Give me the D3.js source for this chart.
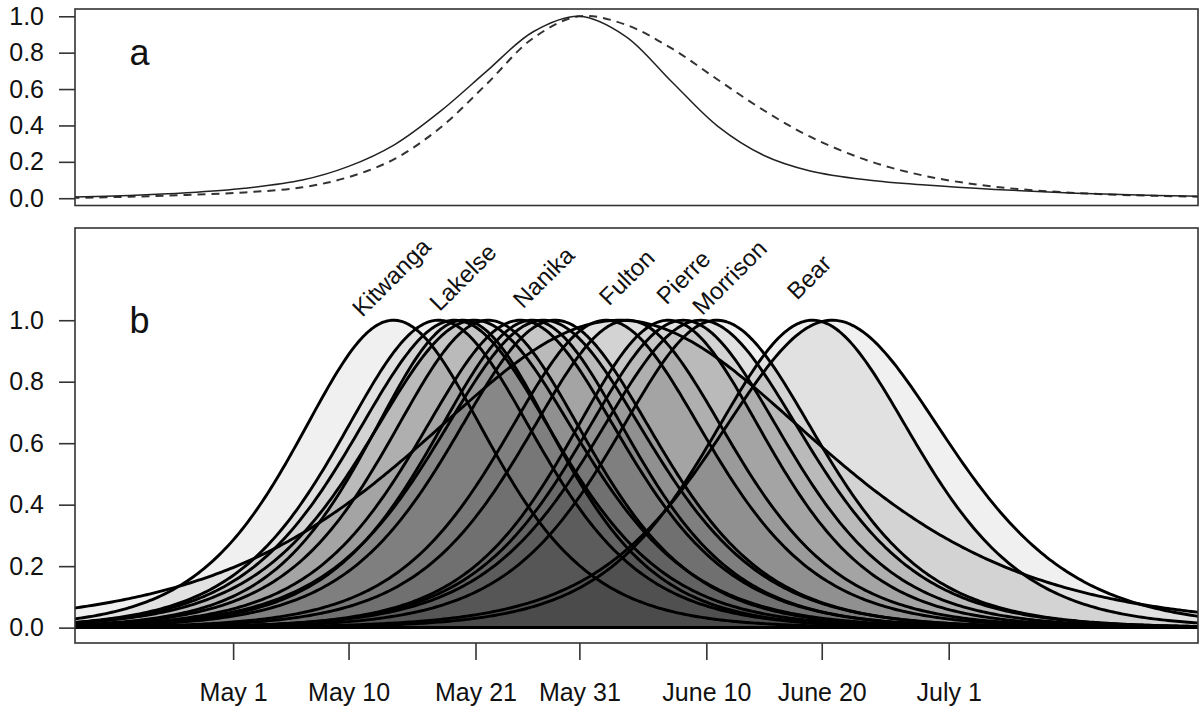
<!DOCTYPE html>
<html>
<head>
<meta charset="utf-8">
<script src="https://cdn.jsdelivr.net/npm/d3@7"></script>
<style>
  body { margin: 0; background: #fff; }
  text { font-family: "Liberation Sans", Arial, sans-serif; fill: #111; }
</style>
</head>
<body>
<div id="chart"></div>
<script>
const aDays   = [107, 112, 117, 122, 127, 131, 135, 139, 143, 147, 151, 155, 159, 163, 167, 171, 176, 181, 187, 194, 201, 205];
const aSolid  = [0.006, 0.015, 0.03, 0.055, 0.10, 0.175, 0.295, 0.48, 0.70, 0.915, 1.0, 0.89, 0.64, 0.395, 0.235, 0.15, 0.10, 0.072, 0.048, 0.028, 0.015, 0.011];
const aDashed = [0.002, 0.008, 0.018, 0.032, 0.06, 0.116, 0.216, 0.39, 0.63, 0.88, 1.0, 0.954, 0.823, 0.651, 0.482, 0.338, 0.207, 0.122, 0.063, 0.029, 0.013, 0.008];

// panel b: one curve per stock, peak day of year and spread (days)
const stockPeaks   = [134.9, 138.8, 140.2, 140.9, 141.9, 143.1, 145.9, 146.9, 147.9, 148.9, 153.3, 154.5, 155.2, 158.7, 160.0, 161.5, 162.9, 171.2, 172.9];
const stockSpreads = [5.6, 5.8, 6.0, 5.5, 6.2, 5.8, 6.0, 5.8, 6.2, 6.0, 6.0, 11.5, 6.0, 5.8, 6.0, 6.2, 6.0, 6.0, 6.8];

const labelNames = ["Kitwanga", "Lakelse", "Nanika", "Fulton", "Pierre", "Morrison", "Bear"];
const labelDays  = [134.7, 140.9, 147.9, 155.1, 160.0, 164.0, 170.9];

const tickDays   = [121, 131, 142, 151, 162, 172, 183];
const tickLabels = ["May 1", "May 10", "May 21", "May 31", "June 10", "June 20", "July 1"];
const yTicks = [0, 0.2, 0.4, 0.6, 0.8, 1.0];

const width = 1201, height = 709;
const left = 75, right = 1198;

const svg = d3.select("#chart").append("svg")
    .attr("width", width)
    .attr("height", height);

const x = d3.scaleLinear().domain([107.3, 204.6]).range([left, right]);
const yA = d3.scaleLinear().domain([-0.04, 1.04]).range([205.5, 9]);
const yB = d3.scaleLinear().domain([-0.05, 1.30]).range([643, 228]);

const defs = svg.append("defs");
defs.append("clipPath").attr("id", "clipA").append("rect")
    .attr("x", left).attr("y", yA.range()[1])
    .attr("width", right - left).attr("height", yA.range()[0] - yA.range()[1]);
defs.append("clipPath").attr("id", "clipB").append("rect")
    .attr("x", left).attr("y", yB.range()[1])
    .attr("width", right - left).attr("height", yB.range()[0] - yB.range()[1]);

function styleAxis(g) {
    g.select(".domain").remove();
    g.selectAll(".tick line").attr("stroke", "#333").attr("stroke-width", 1.6);
    g.selectAll(".tick text").attr("font-size", "25px").attr("fill", "#111");
}

// ---- panel a ----
const gA = svg.append("g");
gA.append("g")
    .attr("transform", `translate(${left},0)`)
    .call(d3.axisLeft(yA).tickValues(yTicks).tickSize(16).tickPadding(15).tickFormat(d3.format(".1f")))
    .call(styleAxis);

const lineA = d3.line()
    .x(d => x(d[0]))
    .y(d => yA(d[1]))
    .curve(d3.curveCatmullRom.alpha(0.5));

const plotA = gA.append("g").attr("clip-path", "url(#clipA)");
plotA.append("path")
    .datum(aDays.map((d, i) => [d, aDashed[i]]))
    .attr("d", lineA)
    .attr("fill", "none")
    .attr("stroke", "#333")
    .attr("stroke-width", 2)
    .attr("stroke-dasharray", "8,6");
plotA.append("path")
    .datum(aDays.map((d, i) => [d, aSolid[i]]))
    .attr("d", lineA)
    .attr("fill", "none")
    .attr("stroke", "#222")
    .attr("stroke-width", 1.5);

gA.append("text")
    .attr("x", x(112.9)).attr("y", yA(0.8))
    .attr("text-anchor", "middle")
    .attr("dy", "0.35em")
    .attr("font-size", "36px")
    .text("a");

gA.append("rect")
    .attr("x", left).attr("y", yA.range()[1])
    .attr("width", right - left).attr("height", yA.range()[0] - yA.range()[1])
    .attr("fill", "none").attr("stroke", "#333").attr("stroke-width", 1.6);

// ---- panel b ----
const gB = svg.append("g");
gB.append("g")
    .attr("transform", `translate(${left},0)`)
    .call(d3.axisLeft(yB).tickValues(yTicks).tickSize(16).tickPadding(15).tickFormat(d3.format(".1f")))
    .call(styleAxis);

gB.append("g")
    .attr("transform", `translate(0,${yB.range()[0]})`)
    .call(d3.axisBottom(x).tickValues(tickDays).tickSize(17).tickPadding(23).tickFormat((d, i) => tickLabels[i]))
    .call(styleAxis);

const grid = d3.range(100, 212.01, 0.25);
const areaB = d3.area()
    .x(d => x(d[0]))
    .y0(yB(0))
    .y1(d => yB(d[1]));

const plotB = gB.append("g").attr("clip-path", "url(#clipB)");
stockPeaks.forEach((mu, i) => {
    const s = stockSpreads[i];
    const pts = grid.map(d => [d, 1 / Math.pow(Math.cosh((d - mu) / (2 * s)), 2)]);
    plotB.append("path")
        .attr("d", areaB(pts))
        .attr("fill", "rgba(0,0,0,0.058)")
        .attr("stroke", "#000")
        .attr("stroke-width", 2.9)
        .attr("stroke-linejoin", "round");
});

labelNames.forEach((name, i) => {
    gB.append("text")
        .attr("transform", `translate(${x(labelDays[i])},${yB(1.14)}) rotate(-45)`)
        .attr("text-anchor", "middle")
        .attr("dy", "0.35em")
        .attr("font-size", "24px")
        .text(name);
});

gB.append("text")
    .attr("x", x(112.9)).attr("y", yB(1.0))
    .attr("text-anchor", "middle")
    .attr("dy", "0.35em")
    .attr("font-size", "36px")
    .text("b");

gB.append("rect")
    .attr("x", left).attr("y", yB.range()[1])
    .attr("width", right - left).attr("height", yB.range()[0] - yB.range()[1])
    .attr("fill", "none").attr("stroke", "#333").attr("stroke-width", 1.6);
</script>
</body>
</html>
